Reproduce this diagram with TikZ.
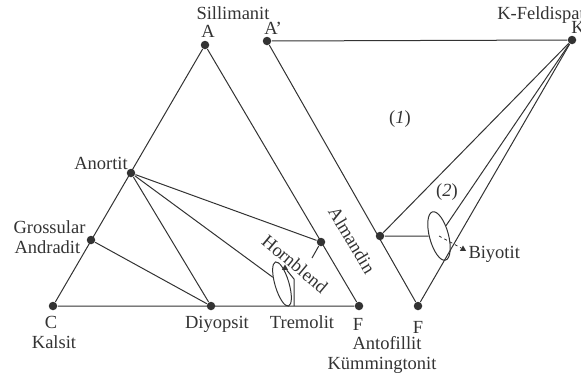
\documentclass[tikz,border=0pt]{standalone}
\usepackage{fontspec}
\setmainfont{Liberation Serif}
\usetikzlibrary{shapes.geometric}
\definecolor{ink}{HTML}{333333}
\begin{document}
\begin{tikzpicture}[x=1pt,y=-1pt, color=ink, line width=1pt,
  dot/.style={circle, fill=ink, draw=none, inner sep=0pt, minimum size=8.5pt},
  ell/.style={ellipse, draw=ink, line width=1pt, inner sep=0pt},
  tri/.style={regular polygon, regular polygon sides=3, fill=ink, draw=none, inner sep=0pt, minimum size=7pt},
  lbl/.style={font=\fontsize{18.5}{20}\selectfont, inner sep=0pt, text=ink, anchor=base}]
\useasboundingbox (0,0) rectangle (581,378);
% points
\node[dot] (A) at (205,45) {};
\node[dot] (C) at (53,306) {};
\node[dot] (F) at (359,306) {};
\node[dot] (An) at (131,173) {};
\node[dot] (Gr) at (91,240) {};
\node[dot] (Di) at (211,306) {};
\node[dot] (Hb) at (321,242) {};
\node[dot] (Ap) at (267,41) {};
\node[dot] (K) at (572,40) {};
\node[dot] (Al) at (380,236) {};
\node[dot] (F2) at (418,306) {};
% ellipses
\node[ell, minimum width=46pt, minimum height=14pt, rotate=-73.5] (E1) at (282,284) {};
\node[ell, minimum width=50pt, minimum height=19pt, rotate=-75] (E2) at (439,236) {};
\node[tri] (t1) at (285,268) {};
\node[tri] (t2) at (463,249) {};
\coordinate (h1) at (294,279);
\coordinate (h2) at (294,306);
\coordinate (hb1) at (312,258);
% left triangle
\draw (A) -- (C) -- (F) -- (A);
\draw (An) -- (Hb);
\draw (An) -- (Di);
\draw (An) -- (E1);
\draw (Gr) -- (Di);
\draw (Hb) -- (hb1);
\draw (t1) -- (h1) -- (h2);
% right figure
\draw (Ap) -- (K);
\draw (Ap) -- (F2);
\draw (K) -- (Al);
\draw (K) -- (E2);
\draw (K) -- (F2);
\draw (Al) -- (E2);
\draw[dashed, line width=0.8pt] (E2.center) -- (t2);
% labels
\node[lbl] (lSil) at (233,19) {Sillimanit};
\node[lbl] (lA) at (208,37) {A};
\node[lbl] (lAp) at (273,34) {A’};
\node[lbl] (lKF) at (541,19) {K-Feldispat};
\node[lbl] (lK) at (578,33) {K};
\node[lbl] (lAn) at (101,169) {Anortit};
\node[lbl, anchor=base west] (lGr) at (13,233) {Grossular};
\node[lbl, anchor=base west] (lAd) at (14,253) {Andradit};
\node[lbl] (lC) at (51,328) {C};
\node[lbl] (lKa) at (54,348) {Kalsit};
\node[lbl] (lDi) at (217,328) {Diyopsit};
\node[lbl] (lTr) at (302,328) {Tremolit};
\node[lbl] (lF) at (358,330) {F};
\node[lbl] (lF2) at (418,333) {F};
\node[lbl] (lAf) at (387,349) {Antofillit};
\node[lbl] (lKu) at (382,369) {Kümmingtonit};
\node[lbl] (l1) at (400,123) {(\textit{1})};
\node[lbl] (l2) at (447,196) {(\textit{2})};
\node[lbl, anchor=base west] (lBi) at (468,258) {Biyotit};
\node[lbl, anchor=center, rotate=-59] (lAl) at (352,240) {Almandin};
\node[lbl, anchor=center, rotate=-40] (lHb) at (295,264) {Hornblend};
\end{tikzpicture}
\end{document}
